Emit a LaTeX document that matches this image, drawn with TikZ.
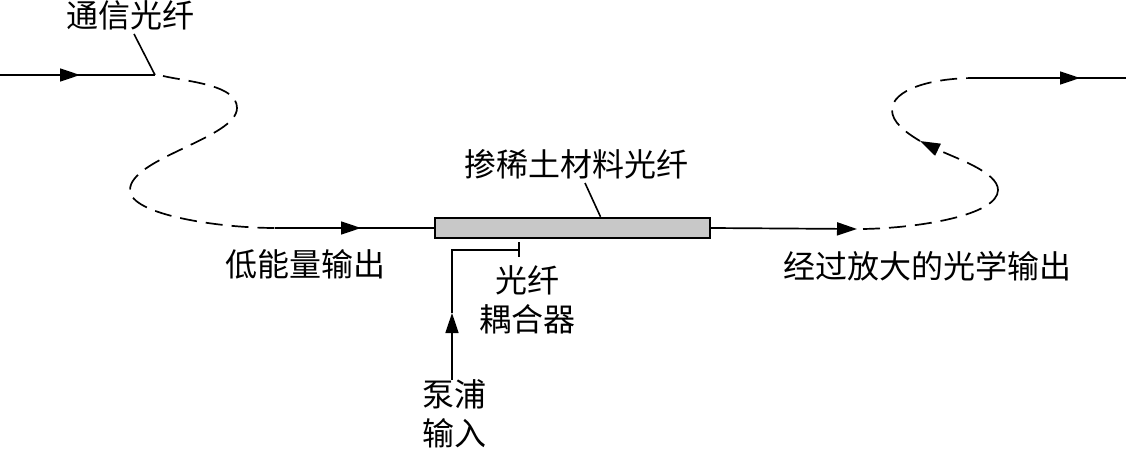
\documentclass[tikz,border=0pt]{standalone}
\usepackage{fontspec}
\usepackage{xcolor}
\usetikzlibrary{arrows.meta, positioning}
\newfontfamily\cjk{Noto Sans CJK SC}
\definecolor{dopedgray}{RGB}{200, 200, 200}

\begin{document}
\begin{tikzpicture}[
      x=1pt, y=-1pt,
      fiber/.style={line width=1.7pt, black},
      fiberarrow/.style={fiber, -{Triangle[length=20pt,width=13pt]}},
      loopfiber/.style={fiber, dash pattern=on 17pt off 9pt},
      leader/.style={line width=1.6pt, black},
      doped/.style={draw=black, line width=2.4pt, fill=dopedgray,
                    minimum width=275pt, minimum height=20pt, inner sep=0pt},
      label/.style={font=\cjk\fontsize{32}{39}\selectfont, inner sep=0pt, align=center}
    ]
    \useasboundingbox (0,0) rectangle (1126,449);
    % amplifier
    \node[doped] (dopedfiber) at (572.5,228) {};
    \node[label] (dopedlabel) at (576,164) {掺稀土材料光纤};
    \draw[leader] ([xshift=9pt,yshift=-4pt]dopedlabel.south) -- ([xshift=28pt]dopedfiber.north);
    % input side
    \coordinate (fiberstart) at (0,75);
    \coordinate (inarrow) at (80,75);
    \coordinate (inbend) at (155,75);
    \coordinate (lowstart) at (275,228);
    \coordinate (lowarrow) at (361,228);
    \node[label] (commlabel) at (130,15) {通信光纤};
    \node[label] (lowlabel) at (305,264) {低能量输出};
    \draw[fiberarrow] (fiberstart) -- (inarrow);
    \draw[fiber] (fiberstart) -- (inbend);
    \draw[leader] ([xshift=4pt,yshift=-4pt]commlabel.south) -- (inbend);
    \draw[loopfiber] (inbend) ++(8pt,-1pt) .. controls (190,82) and (237,85) .. (237,108)
      .. controls (237,138) and (130,158) .. (130,190)
      .. controls (130,215) and (220,228) .. (lowstart);
    \draw[fiberarrow] (lowstart) -- (lowarrow);
    \draw[fiber] (lowstart) -- (dopedfiber.west);
    % output side
    \coordinate (outarrow) at (857,229);
    \coordinate (outturn) at (998,190);
    \coordinate (looparrow) at (920,141);
    \coordinate (outend) at (975,78);
    \coordinate (endarrow) at (1080,78);
    \coordinate (fiberend) at (1126,78);
    \node[label] (outlabel) at (927,266) {经过放大的光学输出};
    \draw[fiberarrow] (dopedfiber.east) -- (outarrow);
    \draw[loopfiber] (outarrow) ++(6pt,0) .. controls (920,228) and (998,215) .. (outturn);
    \draw[loopfiber, -{Triangle[length=20pt,width=13pt]}] (outturn)
      .. controls (998,172) and (955,158) .. (looparrow);
    \draw[loopfiber] (looparrow) .. controls (905,132) and (892,122) .. (892,110)
      .. controls (892,90) and (930,78) .. (outend);
    \draw[fiberarrow] (outend) -- (endarrow);
    \draw[fiber] (outend) -- (fiberend);
    % pump
    \coordinate (coupler) at (519,250);
    \coordinate (couplertop) at (519,242);
    \coordinate (couplerbottom) at (519,257);
    \coordinate (pumpcorner) at (452,250);
    \coordinate (pumparrow) at (452,313);
    \node[label] (couplerlabel) at (527,300) {光纤\\耦合器};
    \node[label] (pumplabel) at (454,414) {泵浦\\输入};
    \draw[leader] (coupler) -- (pumpcorner) -- (pumparrow);
    \draw[leader] (couplertop) -- (couplerbottom);
    \draw[fiberarrow] (pumplabel.north -| pumparrow) -- (pumparrow);
\end{tikzpicture}
\end{document}
